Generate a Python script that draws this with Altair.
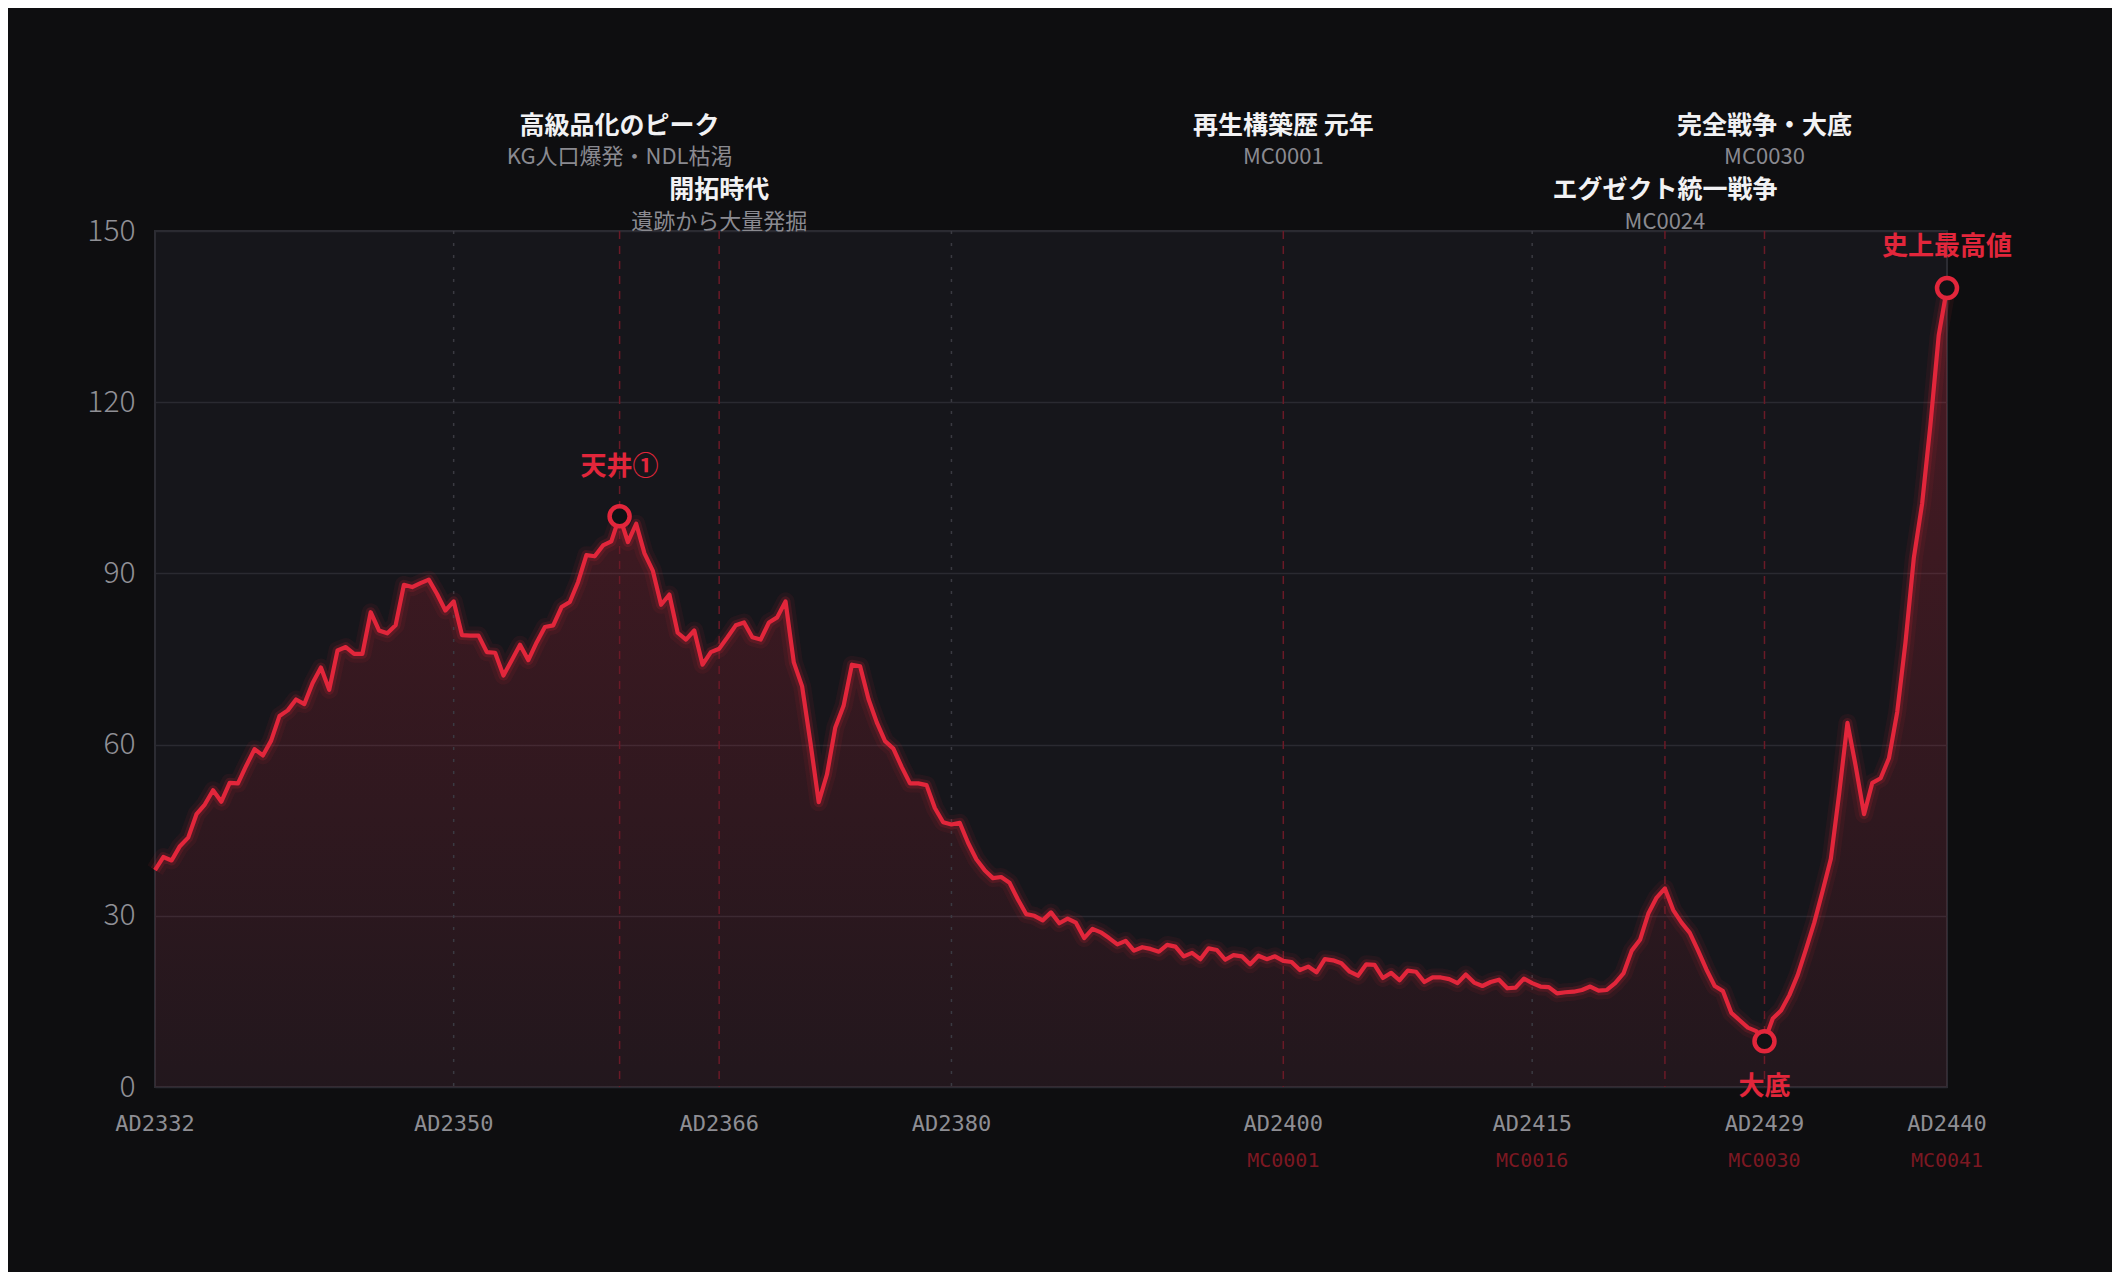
import altair as alt
import pandas as pd

# ---------------- data ----------------
start_year = 2332
step = 0.5  # half-year samples
values = [
    # 2332.0 - 2360.0
    38.0, 40.3, 39.7, 42.2, 43.7, 47.8, 49.5, 52.0, 50.0, 53.3, 53.2, 56.3, 59.2, 58.1, 60.7,
    65.0, 66.0, 67.9, 67.1, 70.8, 73.5, 69.6, 76.5, 77.1, 75.9, 75.9, 83.2, 80.0, 79.5, 80.9,
    88.0, 87.6, 88.3, 88.9, 86.4, 83.5, 85.1, 79.2, 79.1, 79.1, 76.2, 76.1, 72.1, 74.8, 77.5,
    74.8, 77.9, 80.6, 80.9, 84.1, 85.0, 88.5, 93.2, 93.0, 94.9, 95.6, 100.0,
    # 2360.5 - 2383.5
    95.5, 98.7, 93.5, 90.5, 84.5, 86.3, 79.6, 78.4, 80.0, 74.0, 76.2, 76.8, 78.8, 80.9, 81.4,
    78.8, 78.4, 81.4, 82.3, 85.1, 74.4, 70.2, 60.4, 49.9, 54.8, 63.0, 66.8, 74.0, 73.7, 68.0,
    63.9, 60.6, 59.3, 56.1, 53.2, 53.2, 52.9, 48.9, 46.4, 46.0, 46.3, 42.8, 39.9, 38.0, 36.6,
    36.8, 35.8,
    # 2384.0 - 2419.0
    32.9, 30.3, 30.0, 29.2, 30.6, 28.7, 29.5, 28.8, 26.1, 27.7, 27.1, 26.1, 25.0, 25.6, 23.9,
    24.5, 24.2, 23.7, 24.9, 24.6, 22.9, 23.5, 22.4, 24.3, 24.0, 22.3, 23.1, 22.9, 21.5, 23.0,
    22.4, 22.9, 22.1, 21.9, 20.5, 21.1, 20.1, 22.4, 22.2, 21.7, 20.2, 19.5, 21.5, 21.4, 19.1,
    20.0, 18.7, 20.4, 20.2, 18.4, 19.2, 19.2, 18.9, 18.2, 19.7, 18.3, 17.7, 18.4, 18.8, 17.3,
    17.4, 19.0, 18.2, 17.6, 17.5, 16.4, 16.6, 16.7, 17.0, 17.6, 16.9,
    # 2419.5 - 2440.0
    17.0, 18.2, 19.9, 23.9, 25.8, 30.4, 33.2, 34.8, 31.0, 28.8, 27.0, 23.9, 20.6, 17.7, 16.8,
    13.0, 11.7, 10.4, 9.8, 8.0, 12.0, 13.4, 16.1, 19.6, 24.1, 28.8, 34.3, 40.0, 51.4, 63.8,
    56.2, 47.8, 53.3, 54.1, 57.6, 65.7, 78.0, 92.7, 102.2, 116.0, 131.7, 140.0,
]
years = [start_year + step * i for i in range(len(values))]

event_years = [2360, 2366, 2400, 2423, 2429]
event_titles = ["高級品化のピーク", "開拓時代", "再生構築歴 元年", "エグゼクト統一戦争", "完全戦争・大底"]
event_subs = ["KG人口爆発・NDL枯渇", "遺跡から大量発掘", "MC0001", "MC0024", "MC0030"]
event_rows = [1, 2, 1, 2, 1]

grid_years = [2350, 2380, 2415]

tick_years = [2332, 2350, 2366, 2380, 2400, 2415, 2429, 2440]
mc_years = [2400, 2415, 2429, 2440]
mc_labels = ["MC0001", "MC0016", "MC0030", "MC0041"]

mark_years = [2360, 2429, 2440]
mark_values = [100.0, 8.0, 140.0]
mark_labels = ["天井①", "大底", "史上最高値"]

y_ticks = [0, 30, 60, 90, 120, 150]

# ---------------- frames ----------------
series = pd.DataFrame({"year": years, "value": values})
events = pd.DataFrame({"year": event_years, "title": event_titles, "sub": event_subs, "row": event_rows})
grids = pd.DataFrame({"year": grid_years})
ticks = pd.DataFrame({"year": tick_years, "label": ["AD" + str(y) for y in tick_years]})
mcs = pd.DataFrame({"year": mc_years, "label": mc_labels})
marks = pd.DataFrame({"year": mark_years, "value": mark_values, "label": mark_labels})

RED = "#e2263b"
BG = "#0e0e10"
PLOT_BG = "#16161b"
CJK = "Noto Sans CJK JP"
MONO = "DejaVu Sans Mono"
W, H = 1792, 856

xs = alt.Scale(domain=[2332, 2440], nice=False, zero=False)
ys = alt.Scale(domain=[0, 150], nice=False)

X = alt.X("year:Q", scale=xs, axis=None)
Y = alt.Y("value:Q", scale=ys,
          axis=alt.Axis(values=y_ticks, title=None, domain=False, ticks=False,
                        labelFont=CJK, labelFontSize=30, labelColor="#909096",
                        labelPadding=20, grid=True, gridColor="#2a2a31", gridWidth=1.5,
                        labelFontWeight=300))

base = alt.Chart(series)

area = base.mark_area(
    line=False,
    color=alt.Gradient(
        gradient="linear",
        stops=[alt.GradientStop(color="rgba(226,38,59,0.25)", offset=0),
               alt.GradientStop(color="rgba(226,38,59,0.06)", offset=1)],
        x1=1, x2=1, y1=0, y2=1,
    ),
).encode(x=X, y=Y)

glow1 = base.mark_line(color=RED, strokeWidth=18, opacity=0.07, strokeJoin="round").encode(x=X, y="value:Q")
glow2 = base.mark_line(color=RED, strokeWidth=10, opacity=0.16, strokeJoin="round").encode(x=X, y="value:Q")
line = base.mark_line(color=RED, strokeWidth=4.2, strokeJoin="round").encode(x=X, y="value:Q")

grid_rules = alt.Chart(grids).mark_rule(color="#3a3a42", strokeWidth=1.5, strokeDash=[3, 9]).encode(
    x=alt.X("year:Q", scale=xs, axis=None))
event_rules = alt.Chart(events).mark_rule(color="#6a1a27", strokeWidth=1.5, strokeDash=[8, 7]).encode(
    x=alt.X("year:Q", scale=xs, axis=None))

ev1 = alt.Chart(events).transform_filter("datum.row == 1")
ev2 = alt.Chart(events).transform_filter("datum.row == 2")
title_style = dict(font=CJK, fontSize=25, fontWeight="bold", color="#f2f2f4", align="center", baseline="middle")
sub_style = dict(font=CJK, fontSize=22, color="#8a8a90", align="center", baseline="middle")
t1 = ev1.mark_text(**title_style).encode(x=alt.X("year:Q", scale=xs, axis=None), y=alt.value(-105), text="title:N")
s1 = ev1.mark_text(**sub_style).encode(x=alt.X("year:Q", scale=xs, axis=None), y=alt.value(-74), text="sub:N")
t2 = ev2.mark_text(**title_style).encode(x=alt.X("year:Q", scale=xs, axis=None), y=alt.value(-41), text="title:N")
s2 = ev2.mark_text(**sub_style).encode(x=alt.X("year:Q", scale=xs, axis=None), y=alt.value(-9), text="sub:N")

tick_text = alt.Chart(ticks).mark_text(font=MONO, fontSize=22, color="#8e8e94", align="center", baseline="middle").encode(
    x=alt.X("year:Q", scale=xs, axis=None), y=alt.value(H + 37), text="label:N")
mc_text = alt.Chart(mcs).mark_text(font=MONO, fontSize=20, color="#7c1822", align="center", baseline="middle").encode(
    x=alt.X("year:Q", scale=xs, axis=None), y=alt.value(H + 74), text="label:N")

pts = alt.Chart(marks).mark_point(shape="circle", filled=True, fill="#111114", stroke=RED,
                                  strokeWidth=4.5, size=400, opacity=1).encode(
    x=alt.X("year:Q", scale=xs, axis=None), y=alt.Y("value:Q", scale=ys))

lab_style = dict(font=CJK, fontSize=26, fontWeight="bold", color=RED, align="center", baseline="middle")
lab1 = alt.Chart(marks).transform_filter("datum.year == 2360").mark_text(dy=-49, **lab_style).encode(
    x=alt.X("year:Q", scale=xs, axis=None), y=alt.Y("value:Q", scale=ys), text="label:N")
lab2 = alt.Chart(marks).transform_filter("datum.year == 2429").mark_text(dy=46, **lab_style).encode(
    x=alt.X("year:Q", scale=xs, axis=None), y=alt.Y("value:Q", scale=ys), text="label:N")
lab3 = alt.Chart(marks).transform_filter("datum.year == 2440").mark_text(dy=-41, **lab_style).encode(
    x=alt.X("year:Q", scale=xs, axis=None), y=alt.Y("value:Q", scale=ys), text="label:N")

chart = alt.layer(
    area, grid_rules, event_rules, glow1, glow2, line, pts, lab1, lab2, lab3,
    t1, s1, t2, s2, tick_text, mc_text,
).properties(
    width=W, height=H,
    autosize=alt.AutoSizeParams(type="none"),
    padding={"left": 147, "top": 223, "right": 165, "bottom": 185},
    background=BG,
).configure_view(
    fill=PLOT_BG, stroke="#2c2c33", strokeWidth=2,
)

chart.save("out.html", embed_options={"renderer": "svg", "actions": False})
